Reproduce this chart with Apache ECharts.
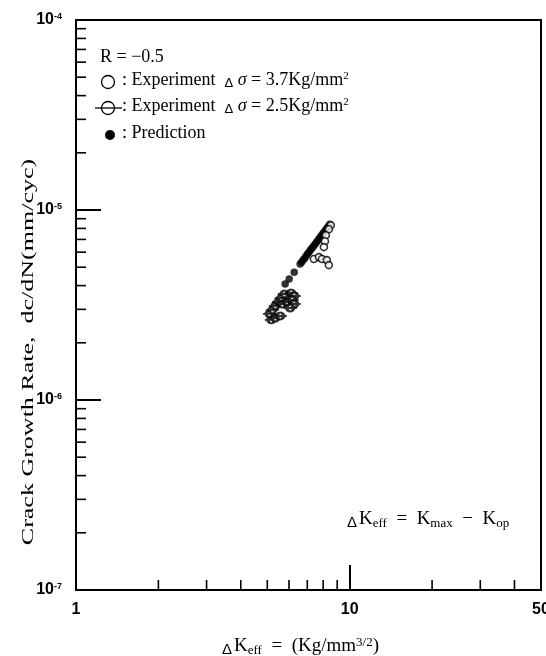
<!DOCTYPE html>
<html>
<head>
<meta charset="utf-8">
<script src="https://cdn.jsdelivr.net/npm/echarts@6/dist/echarts.min.js"></script>
<style>
  html, body { margin: 0; padding: 0; background: #fff; }
  #chart { width: 546px; height: 656px; }
</style>
</head>
<body>
<div id="chart"></div>
<script>
// Axis ranges (log-log)
const kRange = [1, 50];
const rateRange = [1e-7, 1e-4];

// Minor tick positions drawn inside the frame
const kMinorTicks = [2, 3, 4, 5, 6, 7, 8, 9, 20, 30, 40];
const rateMinorTicks = [
  2e-7, 3e-7, 4e-7, 5e-7, 6e-7, 7e-7, 8e-7, 9e-7,
  2e-6, 3e-6, 4e-6, 5e-6, 6e-6, 7e-6, 8e-6, 9e-6,
  2e-5, 3e-5, 4e-5, 5e-5, 6e-5, 7e-5, 8e-5, 9e-5
];

// Experiment, stress range 3.7 Kg/mm2 (open circles)
const exp37K    = [8.53, 8.39, 8.18, 8.12, 8.05, 7.40, 7.72, 7.92, 8.25, 8.39];
const exp37Rate = [8.31e-6, 7.92e-6, 7.37e-6, 6.85e-6, 6.38e-6, 5.52e-6, 5.65e-6, 5.52e-6, 5.45e-6, 5.13e-6];

// Experiment, stress range 2.5 Kg/mm2 (crossed circles)
const exp25K    = [5.09, 5.22, 5.35, 5.49, 5.62, 5.77, 5.17, 5.35, 5.58, 5.67, 5.91, 6.11, 6.27, 6.16, 6.27, 6.06];
const exp25Rate = [2.84e-6, 2.98e-6, 3.13e-6, 3.28e-6, 3.44e-6, 3.61e-6, 2.64e-6, 2.70e-6, 2.77e-6, 3.20e-6, 3.28e-6, 3.66e-6, 3.53e-6, 3.36e-6, 3.20e-6, 3.05e-6];

// Prediction (filled dots)
const predK    = [5.81, 6.01, 6.27, 6.59, 6.68, 6.76, 6.85, 6.93, 7.01, 7.10, 7.19, 7.28, 7.37, 7.47, 7.56, 7.66, 7.75, 7.85, 7.95, 8.05, 8.15, 8.25, 8.36, 8.46];
const predRate = [4.08e-6, 4.33e-6, 4.71e-6, 5.19e-6, 5.32e-6, 5.45e-6, 5.58e-6, 5.72e-6, 5.86e-6, 6.00e-6, 6.15e-6, 6.30e-6, 6.45e-6, 6.61e-6, 6.77e-6, 6.94e-6, 7.11e-6, 7.28e-6, 7.46e-6, 7.64e-6, 7.83e-6, 8.02e-6, 8.21e-6, 8.41e-6];

const pairs = (xs, ys) => xs.map((x, i) => [x, ys[i]]);

const SERIF = '"Liberation Serif", "Times New Roman", serif';
const SANS = '"Liberation Sans", Arial, sans-serif';
const CROSSED = 'path://M0,6 L24,6 M18,6 A6,6 0 1 1 6,6 A6,6 0 1 1 18,6';

const chart = echarts.init(document.getElementById('chart'), null, { renderer: 'canvas' });

function xTick(params, api) {
  const p = api.coord([api.value(0), rateRange[0]]);
  return { type: 'line', shape: { x1: p[0], y1: p[1], x2: p[0], y2: p[1] - 10 },
           style: { stroke: '#000', lineWidth: 1.6 } };
}
function yTick(params, api) {
  const p = api.coord([kRange[0], api.value(1)]);
  return { type: 'line', shape: { x1: p[0], y1: p[1], x2: p[0] + 10, y2: p[1] },
           style: { stroke: '#000', lineWidth: 1.6 } };
}

const textRich = {
  t: { fontFamily: SERIF, fontSize: 18, color: '#000' },
  d: { fontFamily: SANS, fontSize: 13, color: '#000', verticalAlign: 'bottom', padding: [6, 0, 0, 0] },
  g: { fontFamily: SERIF, fontSize: 18, fontStyle: 'italic', color: '#000' },
  sup: { fontFamily: SERIF, fontSize: 11, color: '#000', verticalAlign: 'top' }
};
const formulaRich = {
  t: { fontFamily: SERIF, fontSize: 19, color: '#000' },
  d: { fontFamily: SANS, fontSize: 15, color: '#000', verticalAlign: 'bottom', padding: [6, 2, 0, 0] },
  sub: { fontFamily: SERIF, fontSize: 13, color: '#000', verticalAlign: 'bottom' },
  sup: { fontFamily: SERIF, fontSize: 13, color: '#000', verticalAlign: 'top' }
};

chart.setOption({
  animation: false,
  backgroundColor: '#fff',
  grid: {
    left: 76, right: 5, top: 20, bottom: 66,
    show: true, borderColor: '#000', borderWidth: 2,
    outerBoundsMode: 'none'
  },
  xAxis: {
    type: 'log', logBase: 10, min: kRange[0], max: kRange[1],
    name: '{d|Δ}{t|K}{sub|eff}{t|  =  (Kg/mm}{sup|3/2}{t|)}',
    nameLocation: 'middle', nameGap: 46,
    nameTextStyle: { rich: formulaRich, padding: [0, 16, 0, 0] },
    axisLine: { show: true, lineStyle: { color: '#000', width: 2 } },
    axisTick: { show: true, inside: true, length: 25, lineStyle: { color: '#000', width: 2 } },
    axisLabel: {
      margin: 12, showMinLabel: true, showMaxLabel: true,
      fontFamily: SANS, fontWeight: 'bold', fontSize: 16, color: '#000',
      formatter: v => String(Math.round(v))
    },
    splitLine: { show: false }
  },
  yAxis: {
    type: 'log', logBase: 10, min: rateRange[0], max: rateRange[1],
    axisLine: { show: true, lineStyle: { color: '#000', width: 2 } },
    axisTick: { show: true, inside: true, length: 25, lineStyle: { color: '#000', width: 2 } },
    axisLabel: {
      margin: 14,
      formatter: v => '{b|10}{e|' + Math.round(Math.log10(v)) + '}',
      rich: {
        b: { fontFamily: SANS, fontWeight: 'bold', fontSize: 16, color: '#000' },
        e: { fontFamily: SANS, fontWeight: 'bold', fontSize: 9, color: '#000', verticalAlign: 'top' }
      }
    },
    splitLine: { show: false }
  },
  series: [
    { type: 'custom', name: 'kTicks', renderItem: xTick, data: kMinorTicks.map(v => [v, rateRange[0]]), silent: true, z: 1 },
    { type: 'custom', name: 'rateTicks', renderItem: yTick, data: rateMinorTicks.map(v => [kRange[0], v]), silent: true, z: 1 },
    {
      type: 'scatter', name: 'Prediction', data: pairs(predK, predRate),
      symbol: 'circle', symbolSize: 7.5,
      itemStyle: { color: '#000' }, z: 3
    },
    {
      type: 'scatter', name: 'Experiment 2.5', data: pairs(exp25K, exp25Rate),
      symbol: CROSSED, symbolSize: [13, 7], symbolKeepAspect: false,
      itemStyle: { color: '#fff', borderColor: '#000', borderWidth: 2.6 }, z: 4
    },
    {
      type: 'scatter', name: 'Experiment 3.7', data: pairs(exp37K, exp37Rate),
      symbol: 'circle', symbolSize: 7,
      itemStyle: { color: '#fff', borderColor: '#000', borderWidth: 1.6 }, z: 5
    }
  ],
  graphic: [
    // vertical axis title, stretched along its length like the printed label
    { type: 'text', x: 29, y: 352, rotation: Math.PI / 2, scaleX: 1.53,
      style: { text: 'Crack Growth Rate,  dc/dN(mm/cyc)', font: '17px ' + SERIF, fill: '#000',
               align: 'center', verticalAlign: 'middle' } },
    // legend block
    { type: 'text', left: 100, top: 48, style: { text: 'R = −0.5', font: '18px ' + SERIF, fill: '#000' } },
    { type: 'circle', shape: { cx: 108, cy: 82, r: 6.5 }, style: { fill: '#fff', stroke: '#000', lineWidth: 1.3 } },
    { type: 'text', left: 122, top: 71,
      style: { text: '{t|: Experiment  }{d|Δ}{g| σ}{t| = 3.7Kg/mm}{sup|2}', rich: textRich } },
    { type: 'line', shape: { x1: 95, y1: 108, x2: 122, y2: 108 }, style: { stroke: '#000', lineWidth: 1.3 } },
    { type: 'circle', shape: { cx: 108, cy: 108, r: 6.5 }, style: { fill: 'none', stroke: '#000', lineWidth: 1.3 } },
    { type: 'text', left: 122, top: 97,
      style: { text: '{t|: Experiment  }{d|Δ}{g| σ}{t| = 2.5Kg/mm}{sup|2}', rich: textRich } },
    { type: 'circle', shape: { cx: 110, cy: 135, r: 5 }, style: { fill: '#000' } },
    { type: 'text', left: 122, top: 124,
      style: { text: '{t|: Prediction}', rich: textRich } },
    // definition of the effective range
    { type: 'text', left: 347, top: 510,
      style: { text: '{d|Δ}{t|K}{sub|eff}{t|  =  K}{sub|max}{t|  −  K}{sub|op}', rich: formulaRich } }
  ]
});
</script>
</body>
</html>
